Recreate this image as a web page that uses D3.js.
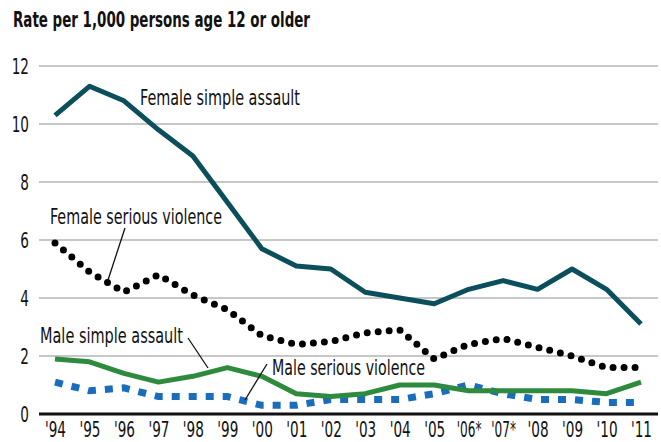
<!DOCTYPE html>
<html>
<head>
<meta charset="utf-8">
<script src="https://cdn.jsdelivr.net/npm/d3@7"></script>
<style>
  html, body { margin: 0; padding: 0; background: #fff; }
  svg { display: block; }
  text { font-family: "Liberation Sans Narrow", "DejaVu Sans Condensed", "Roboto Condensed", sans-serif; fill: #111; }
</style>
</head>
<body>
<svg id="chart" width="661" height="442"></svg>
<script>
// Violent victimization rates, 1994–2011
const years = ["'94","'95","'96","'97","'98","'99","'00","'01","'02","'03","'04","'05","'06*","'07*","'08","'09","'10","'11"];
const femaleSimpleAssault = [10.3, 11.3, 10.8, 9.8, 8.9, 7.3, 5.7, 5.1, 5.0, 4.2, 4.0, 3.8, 4.3, 4.6, 4.3, 5.0, 4.3, 3.1];
const femaleSeriousViolence = [5.9, 4.9, 4.2, 4.8, 4.1, 3.6, 2.7, 2.4, 2.5, 2.8, 2.9, 1.9, 2.4, 2.6, 2.3, 2.0, 1.6, 1.6];
const maleSimpleAssault = [1.9, 1.8, 1.4, 1.1, 1.3, 1.6, 1.3, 0.7, 0.6, 0.7, 1.0, 1.0, 0.8, 0.8, 0.8, 0.8, 0.7, 1.1];
const maleSeriousViolence = [1.1, 0.8, 0.9, 0.6, 0.6, 0.6, 0.3, 0.3, 0.5, 0.5, 0.5, 0.7, 1.0, 0.7, 0.5, 0.5, 0.4, 0.4];
const yTicks = [0, 2, 4, 6, 8, 10, 12];

const svg = d3.select("#chart");
const x = d3.scalePoint().domain(years).range([55, 641]);
const y = d3.scaleLinear().domain([0, 12]).range([414, 66]);
const gridLeft = 39, gridRight = 658;

// Squeeze tick text horizontally around its anchor for a condensed look
function condense(sel, factor) {
  sel.each(function (d) {
    const f = typeof factor === "function" ? factor(d) : factor;
    d3.select(this).attr("transform", `scale(${f},1)`);
  });
}

// Title
svg.append("text")
  .attr("x", 13).attr("y", 27)
  .attr("font-size", 21).attr("font-weight", "bold")
  .attr("textLength", 297).attr("lengthAdjust", "spacingAndGlyphs")
  .text("Rate per 1,000 persons age 12 or older");

// Horizontal gridlines
svg.append("g").selectAll("line")
  .data(yTicks.filter(d => d > 0))
  .join("line")
  .attr("x1", gridLeft).attr("x2", gridRight)
  .attr("y1", d => y(d)).attr("y2", d => y(d))
  .attr("stroke", "#b4b4b4").attr("stroke-width", 1.5);

// Y axis labels
const yAxis = d3.axisLeft(y).tickValues(yTicks).tickSize(0).tickPadding(0);
svg.append("g")
  .attr("transform", "translate(29,0)")
  .call(yAxis)
  .call(g => g.select(".domain").remove())
  .call(g => g.selectAll("text")
    .attr("font-size", 21).attr("fill", "#111")
    .attr("font-family", "Liberation Sans Narrow, DejaVu Sans Condensed, sans-serif")
    .attr("x", 0)
    .attr("dy", "0.36em")
    .call(condense, 0.72));

// X axis labels
const xAxis = d3.axisBottom(x).tickSize(0).tickPadding(0);
svg.append("g")
  .attr("transform", "translate(0,422)")
  .call(xAxis)
  .call(g => g.select(".domain").remove())
  .call(g => g.selectAll("text")
    .attr("font-size", 21).attr("fill", "#111")
    .attr("font-family", "Liberation Sans Narrow, DejaVu Sans Condensed, sans-serif")
    .attr("y", 0)
    .attr("dy", "0.72em")
    .call(condense, d => d.includes("*") ? 0.64 : 0.72));

// Baseline
svg.append("line")
  .attr("x1", gridLeft).attr("x2", gridRight)
  .attr("y1", y(0)).attr("y2", y(0))
  .attr("stroke", "#111").attr("stroke-width", 3);

const line = d3.line().x((d, i) => x(years[i])).y(d => y(d));

// Series
svg.append("path").datum(maleSeriousViolence)
  .attr("d", line).attr("fill", "none")
  .attr("stroke", "#1a6dbd").attr("stroke-width", 7)
  .attr("stroke-dasharray", "8 9");

svg.append("path").datum(maleSimpleAssault)
  .attr("d", line).attr("fill", "none")
  .attr("stroke", "#2e8b3e").attr("stroke-width", 5)
  .attr("stroke-linejoin", "round");

svg.append("path").datum(femaleSeriousViolence)
  .attr("d", line).attr("fill", "none")
  .attr("stroke", "#000").attr("stroke-width", 7)
  .attr("stroke-linecap", "round")
  .attr("stroke-dasharray", "0 11");

svg.append("path").datum(femaleSimpleAssault)
  .attr("d", line).attr("fill", "none")
  .attr("stroke", "#0b4f5c").attr("stroke-width", 5)
  .attr("stroke-linejoin", "round");

// Series labels with leader lines
const labels = [
  { text: "Female simple assault", x: 140, y: 105, w: 160 },
  { text: "Female serious violence", x: 50, y: 224, w: 172, lead: [125, 228, 108, 280] },
  { text: "Male simple assault", x: 40, y: 343, w: 143, lead: [188, 338, 208, 368] },
  { text: "Male serious violence", x: 272, y: 375, w: 153, lead: [267, 364, 245, 400] }
];
labels.forEach(l => {
  if (l.lead) {
    svg.append("line")
      .attr("x1", l.lead[0]).attr("y1", l.lead[1])
      .attr("x2", l.lead[2]).attr("y2", l.lead[3])
      .attr("stroke", "#111").attr("stroke-width", 1.3);
  }
  svg.append("text")
    .attr("x", l.x).attr("y", l.y)
    .attr("font-size", 21)
    .attr("textLength", l.w).attr("lengthAdjust", "spacingAndGlyphs")
    .text(l.text);
});
</script>
</body>
</html>
